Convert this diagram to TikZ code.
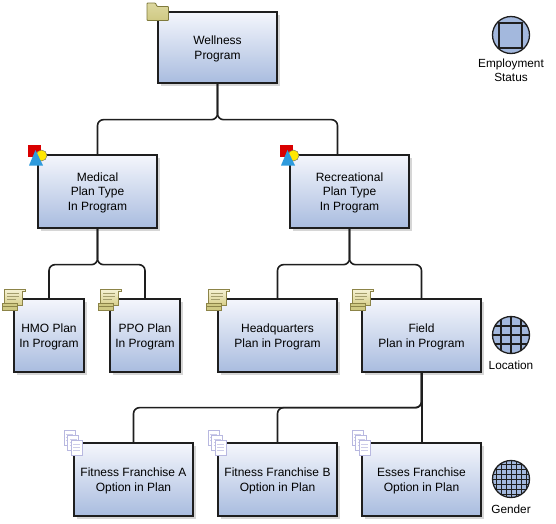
\documentclass[tikz,border=0pt]{standalone}
\usepackage{fontspec}
\setmainfont{Liberation Sans}
\usetikzlibrary{calc}
\definecolor{boxtop}{HTML}{F4F6FC}
\definecolor{boxbot}{HTML}{A9BCDF}
\definecolor{edge}{HTML}{1E1E1E}
\definecolor{fold}{HTML}{CFC983}
\definecolor{foldl}{HTML}{DDD8A0}
\definecolor{foldd}{HTML}{7F7A3C}
\definecolor{scroll}{HTML}{F6F2D6}
\definecolor{scrollb}{HTML}{D8D08C}
\definecolor{scrolld}{HTML}{8C8448}
\definecolor{page}{HTML}{B8B8E0}
\definecolor{dot}{HTML}{A3B8DD}
\tikzset{
  x=1pt,y=-1pt,
  planbox/.style={draw=edge,line width=1.3pt,top color=boxtop,bottom color=boxbot,
    minimum height=72pt,inner sep=0pt,align=center,font=\fontsize{12}{14.5}\selectfont,
    text depth=0pt},
  wide/.style={planbox,minimum width=119pt},
  narrow/.style={planbox,minimum width=70pt},
  link/.style={draw=edge,line width=1.6pt,rounded corners=6pt},
  capt/.style={align=center,font=\fontsize{11.8}{14}\selectfont,inner sep=0pt},
  disc/.style={draw=edge,line width=1.3pt,fill=dot}
}
\newcommand{\shadowbox}[4]{\fill[black!16] (#1+3,#2+3) rectangle (#3+3,#4+3);}
\newcommand{\foldericon}[2]{\begin{scope}[shift={(#1,#2)}]
  \path[draw=foldd,line width=.8pt,top color=foldl,bottom color=fold,rounded corners=.8pt] (0,1) -- (0,18.5) -- (21.5,18.5) -- (21.5,4.5) -- (10,4.5) -- (8.5,1) -- cycle;
\end{scope}}
\newcommand{\shapesicon}[2]{\begin{scope}[shift={(#1,#2)}]
  \fill[red!85!black] (0,0) rectangle (12.5,12);
  \fill[yellow!90!orange] (13.5,10.5) circle (5.5);
  \draw[black!60,line width=.4pt] (13.5,10.5) circle (5.5);
  \fill[cyan!75!blue!85!white] (7.5,5) -- (15,20.5) -- (1,20.5) -- cycle;
\end{scope}}
\newcommand{\scrollicon}[2]{\begin{scope}[shift={(#1,#2)}]
  \path[draw=scrolld,line width=.6pt,top color=scroll,bottom color=scrollb] (2.5,1) -- (23,1) -- (23,3.5) -- (20,3.5) -- (20,17) -- (2.5,17) -- cycle;
  \draw[scrolld!80,line width=.7pt] (5,5) -- (17,5) (5,8) -- (17,8) (5,11) -- (14,11);
  \path[draw=scrolld,line width=.8pt,fill=fold] (0,15.5) -- (15.5,15.5) -- (15.5,22) -- (0,22) -- cycle;
  \draw[scrolld,line width=.6pt] (0.5,18) -- (15,18);
\end{scope}}
\newcommand{\pagesicon}[2]{\begin{scope}[shift={(#1,#2)}]
  \foreach \dx/\dy in {0/0,3.7/5,7.4/10}{
    \draw[page,line width=.7pt,fill=white] (\dx,\dy) rectangle +(11,15.5);
    \draw[page!70,line width=.5pt] (\dx+2,\dy+4) -- +(7,0) (\dx+2,\dy+7) -- +(7,0) (\dx+2,\dy+10) -- +(7,0);
  }
\end{scope}}
\begin{document}
\begin{tikzpicture}
\useasboundingbox (0,0) rectangle (556,523);
% shadows
\foreach \a/\b/\c/\d in {158/12/277/83,38/155/157/228,290/155/409/228,14/299/84/372,110/299/180/372,218/299/337/372,362/299/481/372,74/443/193/516,218/443/337/516,362/443/481/516}{
  \shadowbox{\a}{\b}{\c}{\d}
}
\node[wide,minimum height=71pt] (well) at (217.5,47.5) {Wellness\\Program};
\node[wide,minimum height=73pt] (med) at (97.5,191.5) {Medical\\Plan Type\\In Program};
\node[wide,minimum height=73pt] (rec) at (349.5,191.5) {Recreational\\Plan Type\\In Program};
\node[narrow,minimum height=73pt] (hmo) at (49,335.5) {HMO Plan\\In Program};
\node[narrow,minimum height=73pt] (ppo) at (145,335.5) {PPO Plan\\In Program};
\node[wide,minimum height=73pt] (hq) at (277.5,335.5) {Headquarters\\Plan in Program};
\node[wide,minimum height=73pt] (field) at (421.5,335.5) {Field\\Plan in Program};
\node[wide,minimum height=73pt] (fa) at (133.5,479.5) {Fitness Franchise A\\Option in Plan};
\node[wide,minimum height=73pt] (fb) at (277.5,479.5) {Fitness Franchise B\\Option in Plan};
\node[wide,minimum height=73pt] (ess) at (421.5,479.5) {Esses Franchise\\Option in Plan};
% connectors
\coordinate (recin) at ($(rec.north)+(-12,0)$);
\draw[link] (well.south) -- ($(well.south)+(0,36)$) -| (med.north);
\draw[link] (well.south) -- ($(well.south)+(0,36)$) -| (recin);
\draw[link] (med.south) -- ($(med.south)+(0,36)$) -| (hmo.north);
\draw[link] (med.south) -- ($(med.south)+(0,36)$) -| (ppo.north);
\draw[link] (rec.south) -- ($(rec.south)+(0,36)$) -| (hq.north);
\draw[link] (rec.south) -- ($(rec.south)+(0,36)$) -| (field.north);
\draw[link] (field.south) -- ($(field.south)+(0,35)$) -| (fa.north);
\draw[link] (field.south) -- ($(field.south)+(0,35)$) -| (fb.north);
\draw[link,line width=2pt] (field.south) -- (ess.north);
% icons
\foldericon{147}{2}
\shapesicon{28}{145}
\shapesicon{280}{145}
\scrollicon{2}{288}
\scrollicon{98}{288}
\scrollicon{206}{288}
\scrollicon{350}{288}
\pagesicon{64}{430}
\pagesicon{208}{430}
\pagesicon{352}{430}
% legend
\node[circle,disc,minimum size=37pt,inner sep=0pt] (stat) at (511,35) {};
\draw[edge,line width=1.3pt,fill=dot] (499,23) rectangle (522,48);
\node[capt,anchor=north] (statl) at ($(stat.south)+(0,4.5)$) {Employment\\Status};
\node[circle,disc,minimum size=37pt,inner sep=0pt] (loc) at (511,335) {};
\begin{scope}
\clip (511,335) circle (18.5);
\draw[edge,line width=1.2pt] (492,326) -- (530,326) (492,335) -- (530,335) (492,344) -- (530,344) (501,316) -- (501,354) (511,316) -- (511,354) (521,316) -- (521,354);
\end{scope}
\node[capt,anchor=north] (locl) at ($(loc.south)+(0,7)$) {Location};
\node[circle,disc,minimum size=37pt,inner sep=0pt] (gen) at (511,479) {};
\begin{scope}
\clip (511,479) circle (18.5);
\foreach \k in {-15,-10,-5,0,5,10,15}{
  \draw[edge,line width=1pt] (511+\k,460) -- (511+\k,498) (492,479+\k) -- (530,479+\k);
}
\end{scope}
\node[capt,anchor=north] (genl) at ($(gen.south)+(0,7)$) {Gender};
\end{tikzpicture}
\end{document}
